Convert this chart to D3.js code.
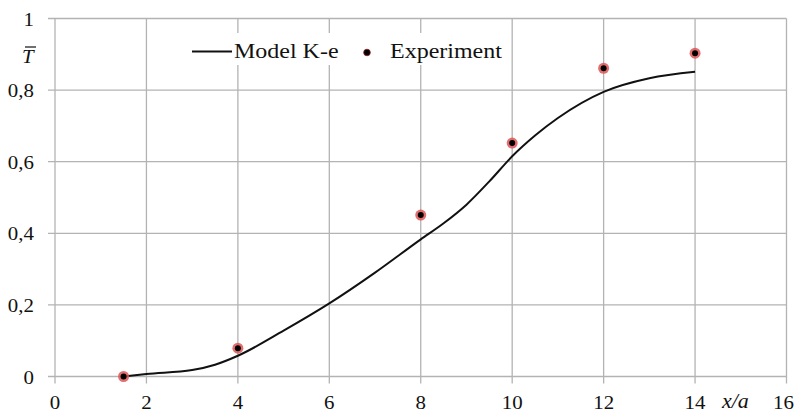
<!DOCTYPE html>
<html lang="en">
<head>
<meta charset="utf-8">
<title>Model K-e vs Experiment</title>
<script src="https://cdn.jsdelivr.net/npm/d3@7/dist/d3.min.js"></script>
<style>
  body { margin: 0; background: #fff; }
  text { font-family: "Liberation Serif", "Times New Roman", serif; fill: #111; }
</style>
</head>
<body>
<div id="chart"></div>
<script>
// data
var modelX = [1.5, 2, 3, 3.5, 4, 5, 6, 7, 8, 8.5, 9, 9.5, 10, 10.5, 11, 12, 13, 14];
var modelY = [0, 0.007, 0.018, 0.033, 0.058, 0.128, 0.204, 0.29, 0.383, 0.428, 0.48, 0.545, 0.615, 0.673, 0.722, 0.795, 0.833, 0.851];
var expX = [1.5, 4, 8, 10, 12, 14];
var expY = [0, 0.079, 0.451, 0.652, 0.861, 0.903];
var xTicks = [0, 2, 4, 6, 8, 10, 12, 14, 16];
var yTicks = [0, 0.2, 0.4, 0.6, 0.8, 1];

var w = 801, h = 415;

var x = d3.scaleLinear().domain([0, 16]).range([55, 786.5]);
var y = d3.scaleLinear().domain([0, 1]).range([376.5, 18.5]);

var svg = d3.select("#chart").append("svg")
  .attr("width", w).attr("height", h);

// helper for (slightly wide) text
function label(px, py, str, size, anchor, sx, italic) {
  var t = svg.append("text")
    .attr("transform", "translate(" + px + "," + py + ") scale(" + sx + ",1)")
    .attr("font-size", size)
    .attr("text-anchor", anchor)
    .text(str);
  if (italic) t.attr("font-style", "italic");
  return t;
}

// grid
svg.selectAll(".hgrid").data(yTicks).enter().append("line")
  .attr("class", "hgrid")
  .attr("x1", 48).attr("x2", x(16))
  .attr("y1", function(d) { return y(d); })
  .attr("y2", function(d) { return y(d); })
  .attr("stroke", "#b3b3b3").attr("stroke-width", 1.3);

svg.selectAll(".vgrid").data(xTicks).enter().append("line")
  .attr("class", "vgrid")
  .attr("x1", function(d) { return x(d); })
  .attr("x2", function(d) { return x(d); })
  .attr("y1", y(1)).attr("y2", y(0) + 7)
  .attr("stroke", "#b3b3b3").attr("stroke-width", 1.3);

// tick labels
yTicks.forEach(function(d) {
  var s = d === 0 ? "0" : d === 1 ? "1" : d3.format(".1f")(d).replace(".", ",");
  label(34, y(d) + 7, s, 19, "end", 1.1);
});
xTicks.forEach(function(d) {
  label(d === 16 ? x(d) - 3 : x(d), 409, String(d), 19, "middle", 1.1);
});

// axis titles
label(722, 408, "x/a", 20, "start", 1.1, true);
label(22, 63, "T", 19, "start", 1.1, true);
svg.append("line")
  .attr("x1", 25).attr("x2", 36).attr("y1", 47).attr("y2", 47)
  .attr("stroke", "#222").attr("stroke-width", 1.3);

// model curve
var pts = modelX.map(function(v, i) { return [v, modelY[i]]; });
var line = d3.line()
  .x(function(d) { return x(d[0]); })
  .y(function(d) { return y(d[1]); })
  .curve(d3.curveMonotoneX);

svg.append("path")
  .datum(pts)
  .attr("d", line)
  .attr("fill", "none")
  .attr("stroke", "#111")
  .attr("stroke-width", 2);

// experiment points
var exp = expX.map(function(v, i) { return [v, expY[i]]; });
svg.selectAll(".halo").data(exp).enter().append("circle")
  .attr("class", "halo")
  .attr("cx", function(d) { return x(d[0]); })
  .attr("cy", function(d) { return y(d[1]); })
  .attr("r", 5.5)
  .attr("fill", "#dd5555").attr("opacity", 0.85);
svg.selectAll(".dot").data(exp).enter().append("circle")
  .attr("class", "dot")
  .attr("cx", function(d) { return x(d[0]); })
  .attr("cy", function(d) { return y(d[1]); })
  .attr("r", 3)
  .attr("fill", "#000");

// legend
svg.append("rect")
  .attr("x", 186).attr("y", 33).attr("width", 322).attr("height", 32)
  .attr("fill", "#fff");
svg.append("line")
  .attr("x1", 192).attr("x2", 232).attr("y1", 51.5).attr("y2", 51.5)
  .attr("stroke", "#111").attr("stroke-width", 2);
label(234, 58, "Model K-e", 20, "start", 1.2);
svg.append("circle")
  .attr("cx", 367).attr("cy", 52.5).attr("r", 3.3)
  .attr("fill", "#000").attr("stroke", "#8b1a1a").attr("stroke-width", 0.8);
label(390, 58, "Experiment", 20, "start", 1.2);
</script>
</body>
</html>
